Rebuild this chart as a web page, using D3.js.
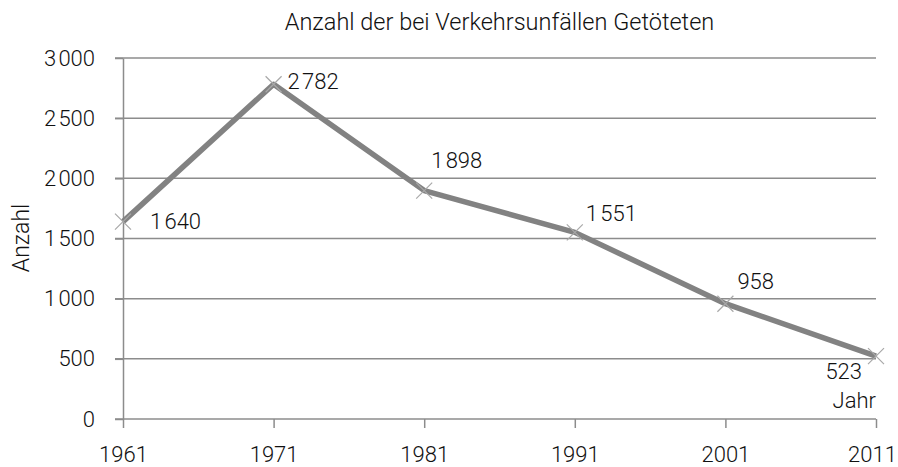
<!DOCTYPE html>
<html>
<head>
  <meta charset="utf-8">
  <script src="https://d3js.org/d3.v7.min.js"></script>
  <style>
    body { margin: 0; background: #fff; }
    svg text { font-family: Roboto, "Liberation Sans", sans-serif; font-weight: 300; fill: #111; }
    .grid line { stroke: #8c8c8c; stroke-width: 1.5px; }
    .axis path, .axis line { stroke: #8c8c8c; stroke-width: 1.5px; }
  </style>
</head>
<body>
<svg id="chart" width="898" height="467"></svg>
<script>

// ---- data ----
const years = [1961, 1971, 1981, 1991, 2001, 2011];
const deaths = [1640, 2782, 1898, 1551, 958, 523];
const yTicks = [0, 500, 1000, 1500, 2000, 2500, 3000];
// label offsets relative to each point (dx, dy, anchor)
const labelPos = [
  [27, 7, "start"], [14, 5, "start"], [7, -23, "start"],
  [11, -11, "start"], [12, -15, "start"], [-14, 23, "end"]
];

const svg = d3.select("#chart");
const margin = { left: 123, right: 22, top: 58, bottom: 48 };
const width = 898, height = 467;
const fontSize = "22px";

const x = d3.scaleLinear().domain([1961, 2011]).range([margin.left, width - margin.right]);
const y = d3.scaleLinear().domain([0, 3000]).range([height - margin.bottom, margin.top]);

// hair space as thousands separator
const fmt = v => v >= 1000 ? d3.format("d")(Math.floor(v / 1000)) + "\u200A" + d3.format("03d")(v % 1000) : String(v);

// horizontal gridlines incl. left tick stubs
svg.append("g").attr("class", "grid")
  .selectAll("line").data(yTicks.filter(d => d > 0)).join("line")
  .attr("x1", margin.left - 8).attr("x2", x(2011))
  .attr("y1", d => y(d)).attr("y2", d => y(d));

// y axis
svg.append("g").attr("class", "axis")
  .attr("transform", `translate(${margin.left},0)`)
  .call(d3.axisLeft(y).tickValues(yTicks).tickSize(8).tickSizeOuter(0).tickFormat(fmt).tickPadding(20))
  .call(g => g.selectAll("text").style("font-size", fontSize));

// x axis
svg.append("g").attr("class", "axis")
  .attr("transform", `translate(0,${y(0)})`)
  .call(d3.axisBottom(x).tickValues(years).tickSize(9).tickSizeOuter(0).tickFormat(d3.format("d")).tickPadding(18))
  .call(g => g.select(".domain").attr("d", `M${margin.left - 8},0H${x(2011)}`))
  .call(g => g.selectAll("text").style("font-size", fontSize))
  // last label sits against the right edge, pull it in a bit
  .call(g => g.selectAll(".tick").filter(d => d === 2011).select("text").attr("dx", -4));

// line
const pts = years.map((yr, i) => ({ year: yr, value: deaths[i] }));
svg.append("path").datum(pts)
  .attr("fill", "none").attr("stroke", "#828282").attr("stroke-width", 5.5)
  .attr("stroke-linejoin", "round")
  .attr("d", d3.line().x(d => x(d.year)).y(d => y(d.value)));

// x markers
const m = 8;
svg.append("g").selectAll("path").data(pts).join("path")
  .attr("d", d => {
    const cx = x(d.year), cy = y(d.value);
    return `M${cx - m},${cy - m}L${cx + m},${cy + m}M${cx - m},${cy + m}L${cx + m},${cy - m}`;
  })
  .attr("stroke", "#a8a8a8").attr("stroke-width", 1.2).attr("fill", "none");

// data labels
svg.append("g").selectAll("text").data(pts).join("text")
  .attr("x", (d, i) => x(d.year) + labelPos[i][0])
  .attr("y", (d, i) => y(d.value) + labelPos[i][1])
  .attr("text-anchor", (d, i) => labelPos[i][2])
  .style("font-size", fontSize)
  .text(d => fmt(d.value));

// title
svg.append("text")
  .attr("x", (margin.left + x(2011)) / 2).attr("y", 30)
  .attr("text-anchor", "middle").style("font-size", "23.5px")
  .text("Anzahl der bei Verkehrsunfällen Getöteten");

// axis titles
svg.append("text")
  .attr("transform", `translate(29,238) rotate(-90)`)
  .attr("text-anchor", "middle").style("font-size", "23px")
  .text("Anzahl");

svg.append("text")
  .attr("x", x(2011)).attr("y", 408)
  .attr("text-anchor", "end").style("font-size", fontSize)
  .text("Jahr");

</script>
</body>
</html>
